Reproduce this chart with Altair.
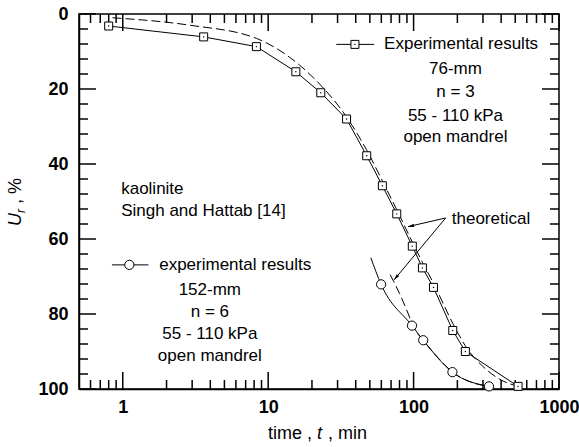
import altair as alt
import pandas as pd

W, H = 480, 375
FONT = "Liberation Sans"

# ---------------- data ----------------
# 76-mm experimental results (squares)
sq_t = [0.8, 3.6, 8.3, 15.5, 23, 34.6, 47.6, 61, 76.6, 98, 115, 137, 186, 227, 523]
sq_U = [3.2, 6.1, 8.7, 15.4, 21.0, 28.0, 37.8, 45.8, 53.3, 61.9, 67.7, 72.9, 84.4, 90.0, 99.3]

# 76-mm theoretical (dashed)
th76_t = [0.85, 2.9, 8.3, 16.4, 23.5, 32, 47.6, 61, 76.6, 98, 115, 137, 186, 227, 300, 400, 523]
th76_U = [1.0, 3.0, 6.5, 13.6, 19.4, 25.6, 36.3, 44.5, 52.2, 60.8, 66.2, 71.8, 82.5, 88.5, 94.0, 97.6, 99.3]

# 152-mm experimental results (circles)
ci_t = [59.8, 97.5, 116.5, 185, 330]
ci_U = [72.1, 83.1, 87.0, 95.5, 99.3]
ci_line_t = [50.8, 59.8, 97.5, 116.5, 185, 330]
ci_line_U = [65.0, 72.1, 83.1, 87.0, 95.5, 99.3]

# 152-mm theoretical (dashed)
th152_t = [69, 80, 92, 100, 116.5, 150, 185, 250, 330]
th152_U = [69.5, 74.5, 80.0, 83.5, 87.0, 92.0, 95.5, 98.2, 99.3]

# ticks
x_major = [1, 10, 100, 1000]
x_minor = [0.6, 0.7, 0.8, 0.9, 2, 3, 4, 5, 6, 7, 8, 9,
           20, 30, 40, 50, 60, 70, 80, 90, 200, 300, 400, 500, 600, 700, 800, 900]
y_major = [0, 20, 40, 60, 80, 100]
y_minor = [4, 8, 12, 16, 24, 28, 32, 36, 44, 48, 52, 56, 64, 68, 72, 76, 84, 88, 92, 96]

# annotations
ann_left_txt = ["kaolinite", "Singh and Hattab [14]", "experimental results", "Experimental results", "theoretical"]
ann_left_t = [0.975, 0.975, 1.78, 62.7, 183]
ann_left_U = [46.7, 52.5, 66.9, 8.1, 54.7]

ann_c_txt = ["76-mm", "n = 3", "55 - 110 kPa", "open mandrel",
             "152-mm", "n = 6", "55 - 110 kPa", "open mandrel"]
ann_c_t = [194, 194, 194, 194, 3.97, 3.97, 3.97, 3.97]
ann_c_U = [14.7, 20.9, 27.2, 32.7, 73.6, 79.4, 85.3, 91.2]

# legend samples
leg_t1 = [29.4, 0.842]
leg_t2 = [53.5, 1.5]
leg_U = [8.1, 66.9]
leg_sym_t = [39.5, 1.11]

# arrows from "theoretical"
arr_t = [166, 166]
arr_U = [54.4, 54.4]
arr_t2 = [91.6, 73.4]
arr_U2 = [56.7, 70.9]
arr_ang = [257, 220]

# ---------------- frames ----------------
df_sq = pd.DataFrame({"t": sq_t, "U": sq_U})
df_th76 = pd.DataFrame({"t": th76_t, "U": th76_U})
df_ci = pd.DataFrame({"t": ci_t, "U": ci_U})
df_ciline = pd.DataFrame({"t": ci_line_t, "U": ci_line_U})
df_th152 = pd.DataFrame({"t": th152_t, "U": th152_U})
df_annl = pd.DataFrame({"t": ann_left_t, "U": ann_left_U, "txt": ann_left_txt})
df_annc = pd.DataFrame({"t": ann_c_t, "U": ann_c_U, "txt": ann_c_txt})
df_leg = pd.DataFrame({"t": leg_t1, "t2": leg_t2, "U": leg_U, "ts": leg_sym_t})
df_arr = pd.DataFrame({"t": arr_t, "U": arr_U, "t2": arr_t2, "U2": arr_U2, "ang": arr_ang})
df_xmaj = pd.DataFrame({"t": x_major})
df_xmin = pd.DataFrame({"t": x_minor})
df_ymaj = pd.DataFrame({"U": y_major})
df_ymin = pd.DataFrame({"U": y_minor})
df_one = pd.DataFrame({"a": [0]})

xs = alt.Scale(type="log", domain=[0.5, 1000], nice=False)
ys = alt.Scale(domain=[0, 100], reverse=True, nice=False, zero=False)

x_label_axis = alt.Axis(orient="bottom", values=x_major, ticks=False, tickSize=0, domain=True,
                        domainColor="black", domainWidth=1.5,
                        labels=True, labelPadding=9, format="d", labelFlush=False,
                        labelOverlap=False, grid=False, title=None,
                        labelFont=FONT, labelFontSize=18, labelFontWeight="bold", labelColor="black")
y_label_axis = alt.Axis(orient="left", values=y_major, ticks=False, tickSize=0, domain=True,
                        domainColor="black", domainWidth=1.5,
                        labels=True, labelPadding=11, format="d", labelOverlap=False,
                        grid=False, title=None,
                        labelFont=FONT, labelFontSize=18, labelFontWeight="bold", labelColor="black")


def XE(field="t", axis=None):
    return alt.X(field, type="quantitative", scale=xs, axis=axis)


def YE(field="U", axis=None):
    return alt.Y(field, type="quantitative", scale=ys, axis=axis)


# data layers (first one carries the labelled axes)
line76 = alt.Chart(df_sq).mark_line(color="black", strokeWidth=1).encode(
    x=XE("t", x_label_axis), y=YE("U", y_label_axis))
dash76 = alt.Chart(df_th76).mark_line(color="black", strokeWidth=1, strokeDash=[9, 4],
                                      interpolate="monotone").encode(x=XE(), y=YE())
line152 = alt.Chart(df_ciline).mark_line(color="black", strokeWidth=1,
                                         interpolate="monotone").encode(x=XE(), y=YE())
dash152 = alt.Chart(df_th152).mark_line(color="black", strokeWidth=1, strokeDash=[9, 4],
                                        interpolate="monotone").encode(x=XE(), y=YE())
pts76 = alt.Chart(df_sq).mark_point(shape="square", size=64, filled=True, fill="white",
                                    stroke="black", strokeWidth=1, opacity=1).encode(x=XE(), y=YE())
dots76 = alt.Chart(df_sq).mark_circle(size=2, color="black", opacity=1).encode(x=XE(), y=YE())
pts152 = alt.Chart(df_ci).mark_point(shape="circle", size=85, filled=True, fill="white",
                                     stroke="black", strokeWidth=1, opacity=1).encode(x=XE(), y=YE())

# inward ticks on all four sides
TW = 1.5
tk_b_maj = alt.Chart(df_xmaj).mark_rule(color="black", strokeWidth=TW).encode(
    x=XE("t"), y=alt.value(H), y2=alt.value(H - 17))
tk_t_maj = alt.Chart(df_xmaj).mark_rule(color="black", strokeWidth=TW).encode(
    x=XE("t"), y=alt.value(0), y2=alt.value(17))
tk_b_min = alt.Chart(df_xmin).mark_rule(color="black", strokeWidth=TW).encode(
    x=XE("t"), y=alt.value(H), y2=alt.value(H - 9))
tk_t_min = alt.Chart(df_xmin).mark_rule(color="black", strokeWidth=TW).encode(
    x=XE("t"), y=alt.value(0), y2=alt.value(9))
tk_l_maj = alt.Chart(df_ymaj).mark_rule(color="black", strokeWidth=TW).encode(
    y=YE("U"), x=alt.value(0), x2=alt.value(17))
tk_r_maj = alt.Chart(df_ymaj).mark_rule(color="black", strokeWidth=TW).encode(
    y=YE("U"), x=alt.value(W), x2=alt.value(W - 17))
tk_l_min = alt.Chart(df_ymin).mark_rule(color="black", strokeWidth=TW).encode(
    y=YE("U"), x=alt.value(0), x2=alt.value(9))
tk_r_min = alt.Chart(df_ymin).mark_rule(color="black", strokeWidth=TW).encode(
    y=YE("U"), x=alt.value(W), x2=alt.value(W - 9))

leg_lines = alt.Chart(df_leg).mark_rule(color="black", strokeWidth=1).encode(
    x=XE("t"), x2="t2", y=YE("U"))
leg_sq = alt.Chart(df_leg.iloc[[0]]).mark_point(shape="square", size=64, filled=True, fill="white",
                                                stroke="black", strokeWidth=1, opacity=1).encode(
    x=XE("ts"), y=YE("U"))
leg_sqdot = alt.Chart(df_leg.iloc[[0]]).mark_circle(size=2, color="black", opacity=1).encode(
    x=XE("ts"), y=YE("U"))
leg_ci = alt.Chart(df_leg.iloc[[1]]).mark_point(shape="circle", size=85, filled=True, fill="white",
                                                stroke="black", strokeWidth=1, opacity=1).encode(
    x=XE("ts"), y=YE("U"))

txt_left = alt.Chart(df_annl).mark_text(align="left", baseline="middle", fontSize=17,
                                        font=FONT, color="black").encode(
    x=XE(), y=YE(), text="txt:N")
txt_c = alt.Chart(df_annc).mark_text(align="center", baseline="middle", fontSize=17,
                                     font=FONT, color="black").encode(
    x=XE(), y=YE(), text="txt:N")

arrows = alt.Chart(df_arr).mark_rule(color="black", strokeWidth=1).encode(
    x=XE("t"), y=YE("U"), x2="t2", y2="U2")
heads = alt.Chart(df_arr).mark_point(shape="M0,0 L0.55,2 L-0.55,2 Z", size=36, filled=True,
                                     color="black", opacity=1).encode(
    x=XE("t2"), y=YE("U2"), angle=alt.Angle("ang:Q", scale=None))


# axis titles as text pieces (mixed italic)
def title_piece(text, x, y, size=18, style="normal", angle=0, align="left", baseline="middle"):
    return alt.Chart(df_one).mark_text(text=text, align=align, baseline=baseline, angle=angle,
                                       fontSize=size, fontStyle=style, font=FONT,
                                       color="black").encode(x=alt.value(x), y=alt.value(y))


xt1 = title_piece("time ,", 233, 420, align="right")
xt2 = title_piece("t", 238, 420, style="italic")
xt3 = title_piece(", min", 249, 420)
yt1 = title_piece("U", -58, 212, style="italic", angle=270, baseline="alphabetic")
yt2 = title_piece("r", -54, 199, size=12, style="italic", angle=270, baseline="alphabetic")
yt3 = title_piece(", %", -58, 190, angle=270, baseline="alphabetic")

chart = alt.layer(
    line76, dash76, line152, dash152,
    tk_b_maj, tk_l_maj, tk_t_maj, tk_b_min, tk_t_min, tk_r_maj, tk_l_min, tk_r_min,
    pts76, dots76, pts152, leg_lines, leg_sq, leg_sqdot, leg_ci,
    txt_left, txt_c, arrows, heads, xt1, xt2, xt3, yt1, yt2, yt3,
).resolve_axis(x="independent", y="independent").properties(
    width=W, height=H,
    padding={"left": 79, "top": 14, "right": 20, "bottom": 58},
    autosize=alt.AutoSizeParams(type="none"),
    background="white",
).configure_view(stroke="black", strokeWidth=1.5)

chart.save("out.html", embed_options={"renderer": "svg", "actions": False})
